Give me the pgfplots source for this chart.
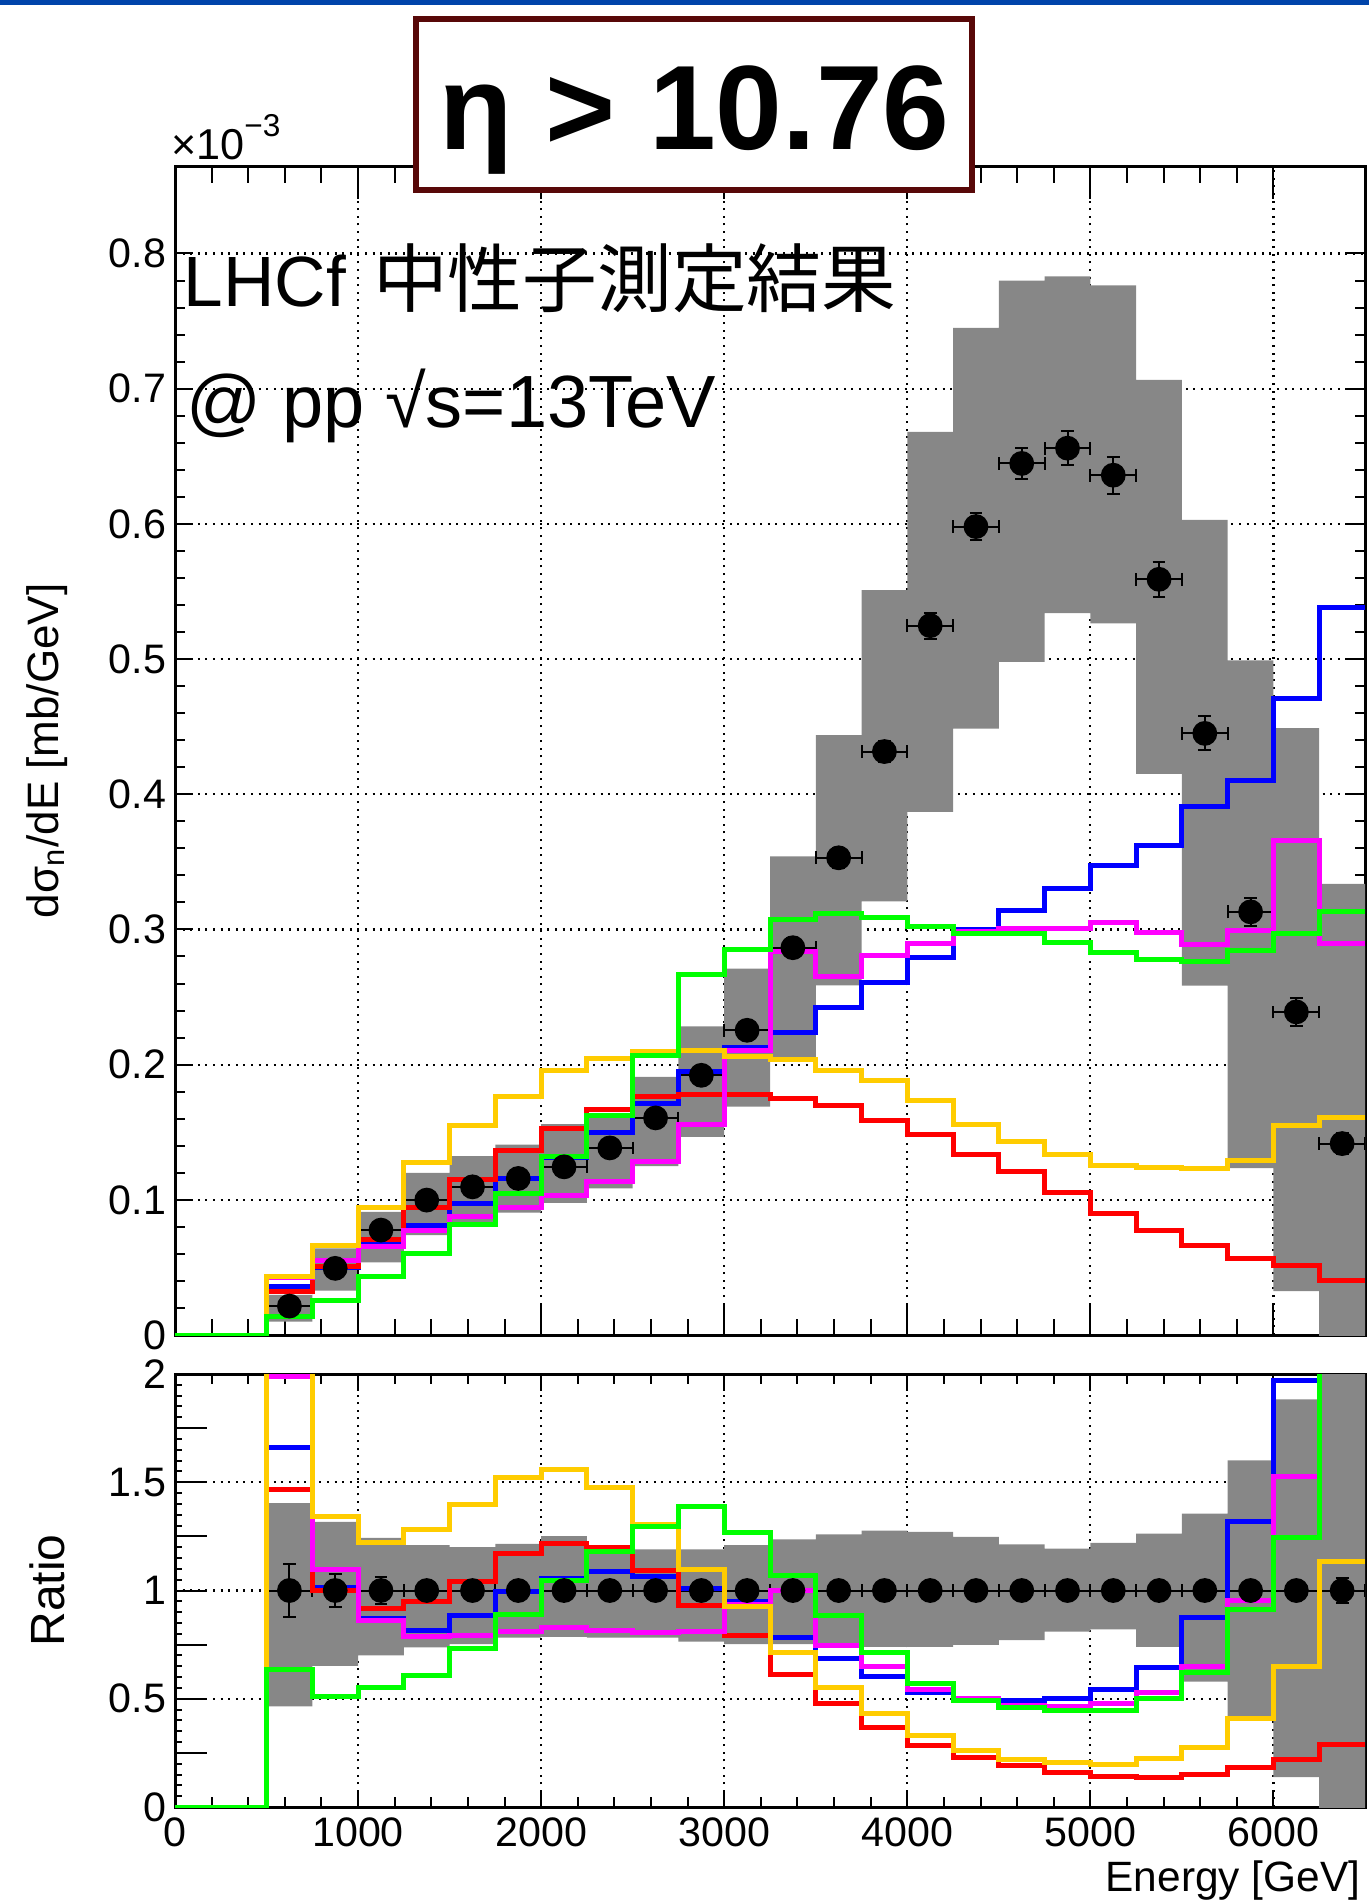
\documentclass[border=0pt]{standalone}
\usepackage{pgfplots}
\pgfplotsset{compat=1.18}
\usepackage{pgfplotstable}
\usepackage{fontspec}
\setmainfont{Liberation Sans}
\newfontfamily\cjk[Scale=1.05]{Noto Sans CJK JP}

\definecolor{hblue}{RGB}{0,0,255}
\definecolor{hred}{RGB}{255,0,0}
\definecolor{hmag}{RGB}{255,0,255}
\definecolor{hyel}{RGB}{255,204,0}
\definecolor{hgrn}{RGB}{0,255,0}
\definecolor{bandgray}{RGB}{135,135,135}
\definecolor{boxred}{RGB}{88,8,8}
\definecolor{topblue}{RGB}{0,68,170}

% model histograms (left bin edges), units of 1e-3 mb/GeV
\pgfplotstableread{
e     b      r      m      y      g
0     0      0      0      0      0
500   0.0362 0.032  0.0428 0.0436 0.0135
750   0.0498 0.0505 0.0549 0.0665 0.0259
1000  0.0675 0.0707 0.0658 0.0943 0.0431
1250  0.0813 0.0943 0.0776 0.1273 0.0603
1500  0.0973 0.115  0.0874 0.155  0.082
1750  0.1158 0.1367 0.0941 0.1766 0.1047
2000  0.1314 0.1527 0.1034 0.1953 0.1318
2250  0.150  0.1667 0.1133 0.2044 0.1626
2500  0.171  0.1761 0.128  0.2094 0.2069
2750  0.1946 0.178  0.156  0.2106 0.2667
3000  0.2126 0.1778 0.2106 0.2062 0.2852
3250  0.224  0.175  0.284  0.2037 0.3074
3500  0.2426 0.1696 0.265  0.1953 0.3116
3750  0.261  0.159  0.2805 0.188  0.309
4000  0.279  0.148  0.2896 0.1735 0.302
4250  0.300  0.1338 0.2987 0.156  0.2969
4500  0.314  0.1213 0.301  0.143  0.297
4750  0.330  0.1057 0.301  0.1338 0.290
5000  0.347  0.0896 0.305  0.1255 0.283
5250  0.362  0.0774 0.298  0.1239 0.278
5500  0.391  0.0662 0.289  0.1234 0.2766
5750  0.41   0.0566 0.2995 0.129  0.2844
6000  0.4705 0.0512 0.3657 0.155  0.2969
6250  0.538  0.0403 0.2896 0.161  0.313
6500  0.538  0.0403 0.2896 0.161  0.313
}\hist

% ratio of models to data
\pgfplotstableread{
e     b      r      m      y      g
0     0      0      0      0      0
500   1.661  1.466  1.99   2.04   0.637
750   1.013  0.998  1.097  1.34   0.51
1000  0.87   0.918  0.86   1.22   0.553
1250  0.817  0.949  0.786  1.282  0.606
1500  0.883  1.041  0.79   1.397  0.734
1750  0.995  1.17   0.813  1.523  0.89
2000  1.056  1.216  0.829  1.558  1.047
2250  1.087  1.197  0.817  1.474  1.179
2500  1.067  1.093  0.806  1.305  1.294
2750  1.008  0.929  0.81   1.097  1.386
3000  0.949  0.79   0.935  0.924  1.266
3250  0.783  0.614  0.998  0.714  1.07
3500  0.688  0.48   0.748  0.553  0.883
3750  0.602  0.365  0.648  0.433  0.714
4000  0.53   0.284  0.545  0.33   0.571
4250  0.503  0.23   0.502  0.261  0.494
4500  0.491  0.192  0.467  0.219  0.46
4750  0.502  0.161  0.462  0.204  0.445
5000  0.542  0.143  0.48   0.195  0.448
5250  0.645  0.138  0.53   0.223  0.499
5500  0.875  0.149  0.648  0.276  0.622
5750  1.317  0.181  0.956  0.411  0.913
6000  1.972  0.218  1.527  0.648  1.243
6250  3.8    0.289  2.05   1.136  2.21
6500  3.8    0.289  2.05   1.136  2.21
}\ratio

% data points
\pgfplotstableread{
c     v      err    one  rerr
625   0.0214 0.0026 1    0.121
875   0.0493 0.0038 1    0.077
1125  0.0776 0.0047 1    0.061
1375  0.0998 0.004  1    0.040
1625  0.1096 0.004  1    0.036
1875  0.1158 0.004  1    0.035
2125  0.1244 0.004  1    0.032
2375  0.1384 0.0045 1    0.033
2625  0.1606 0.005  1    0.031
2875  0.1921 0.0055 1    0.029
3125  0.2254 0.006  1    0.027
3375  0.2865 0.007  1    0.024
3625  0.353  0.0075 1    0.021
3875  0.4316 0.008  1    0.019
4125  0.5247 0.0096 1    0.018
4375  0.598  0.0099 1    0.017
4625  0.6447 0.0116 1    0.018
4875  0.656  0.0127 1    0.019
5125  0.636  0.0137 1    0.022
5375  0.559  0.013  1    0.023
5625  0.445  0.0126 1    0.028
5875  0.313  0.0104 1    0.033
6125  0.239  0.0104 1    0.044
6375  0.1416 0.008  1    0.056
}\data

% systematic band of the data (outline of the grey area, top panel)
\pgfplotstableread{
x    y
500  0.0296
750  0.0296
750  0.064
1000 0.064
1000 0.0911
1250 0.0911
1250 0.12
1500 0.12
1500 0.1323
1750 0.1323
1750 0.1409
2000 0.1409
2000 0.156
2250 0.156
2250 0.1626
2500 0.1626
2500 0.191
2750 0.191
2750 0.2283
3000 0.2283
3000 0.271
3250 0.271
3250 0.354
3500 0.354
3500 0.4437
3750 0.4437
3750 0.551
4000 0.551
4000 0.668
4250 0.668
4250 0.745
4500 0.745
4500 0.780
4750 0.780
4750 0.783
5000 0.783
5000 0.7765
5250 0.7765
5250 0.7065
5500 0.7065
5500 0.603
5750 0.603
5750 0.499
6000 0.499
6000 0.449
6250 0.449
6250 0.3338
6500 0.3338
6500 -0.01
6250 -0.01
6250 0.0325
6000 0.0325
6000 0.1234
5750 0.1234
5750 0.2584
5500 0.2584
5500 0.415
5250 0.415
5250 0.5264
5000 0.5264
5000 0.534
4750 0.534
4750 0.498
4500 0.498
4500 0.4485
4250 0.4485
4250 0.387
4000 0.387
4000 0.3208
3750 0.3208
3750 0.2586
3500 0.2586
3500 0.2057
3250 0.2057
3250 0.169
3000 0.169
3000 0.1466
2750 0.1466
2750 0.125
2500 0.125
2500 0.1084
2250 0.1084
2250 0.0978
2000 0.0978
2000 0.0905
1750 0.0905
1750 0.083
1500 0.083
1500 0.0739
1250 0.0739
1250 0.0537
1000 0.0537
1000 0.0328
750  0.0328
750  0.0099
500  0.0099
}\bandtop

% systematic band in the ratio panel
\pgfplotstableread{
x    y
500  1.404
750  1.404
750  1.317
1000 1.317
1000 1.243
1250 1.243
1250 1.21
1500 1.21
1500 1.20
1750 1.20
1750 1.216
2000 1.216
2000 1.251
2250 1.251
2250 1.18
2500 1.18
2500 1.19
3000 1.19
3000 1.21
3250 1.21
3250 1.236
3500 1.236
3500 1.259
3750 1.259
3750 1.277
4000 1.277
4000 1.271
4250 1.271
4250 1.248
4500 1.248
4500 1.213
4750 1.213
4750 1.194
5000 1.194
5000 1.22
5250 1.22
5250 1.263
5500 1.263
5500 1.355
5750 1.355
5750 1.601
6000 1.601
6000 1.883
6250 1.883
6250 2.4
6500 2.4
6500 -0.1
6250 -0.1
6250 0.138
6000 0.138
6000 0.41
5750 0.41
5750 0.579
5500 0.579
5500 0.74
5250 0.74
5250 0.821
5000 0.821
5000 0.81
4750 0.81
4750 0.771
4500 0.771
4500 0.749
4250 0.749
4250 0.740
3750 0.740
3750 0.745
3500 0.745
3500 0.752
3000 0.752
3000 0.764
2750 0.764
2750 0.783
2250 0.783
2250 0.786
2000 0.786
2000 0.783
1750 0.783
1750 0.752
1500 0.752
1500 0.737
1250 0.737
1250 0.701
1000 0.701
1000 0.652
750  0.652
750  0.465
500  0.465
}\bandratio

\pgfplotsset{
  rootframe/.style={
    scale only axis, width=297.5pt,
    xmin=0, xmax=6500,
    xtick={0,1000,2000,3000,4000,5000,6000},
    minor x tick num=4,
    tick align=inside, tick pos=both,
    axis line style={line width=0.75pt, black},
    every tick/.style={black, line width=0.5pt},
    grid=major,
    major grid style={black, line width=0.55pt, dash pattern=on 0.5pt off 1.4pt},
    scaled x ticks=false, scaled y ticks=false,
    /pgf/number format/assume math mode=true,
    /pgf/number format/1000 sep={},
    tick label style={font=\fontsize{10.3}{12}\selectfont},
    yticklabel style={inner sep=0pt, xshift=-2pt, /pgf/number format/fixed, /pgf/number format/precision=1},
    xticklabel style={inner sep=0pt, yshift=-2.5pt},
  },
  hline/.style={const plot, line width=1.25pt},
  datapts/.style={only marks, mark=*, mark size=2.9pt, black, mark options={fill=black, draw=black}},
}

\begin{document}
\begin{tikzpicture}
\path (0,0) rectangle (342.25pt,-475.25pt);
\fill[topblue] (0,0) rectangle (342.25pt,-1.25pt);

% ---------------- top panel ----------------
\begin{axis}[rootframe, name=top,
  at={(43.75pt,-333.75pt)}, anchor=south west,
  height=292pt, ymin=0, ymax=0.864,
  ytick={0,0.1,0.2,0.3,0.4,0.5,0.6,0.7,0.8},
  minor y tick num=4,
  xticklabels={},
  xtick style={/pgfplots/major tick length=8pt, /pgfplots/minor tick length=4pt},
  ytick style={/pgfplots/major tick length=4.5pt, /pgfplots/minor tick length=2.5pt},
]
\addplot[fill=bandgray, draw=none] table[x=x, y=y] {\bandtop};
\addplot[datapts,
  error bars/.cd, x dir=both, x fixed=125, y dir=both, y explicit,
  error bar style={line width=0.5pt, black},
  error mark options={black, rotate=90, mark size=1.6pt, line width=0.5pt}]
  table[x=c, y=v, y error=err] {\data};
\addplot[hline, hblue] table[x=e, y=b] {\hist};
\addplot[hline, hred]  table[x=e, y=r] {\hist};
\addplot[hline, hmag]  table[x=e, y=m] {\hist};
\addplot[hline, hyel]  table[x=e, y=y] {\hist};
\addplot[hline, hgrn]  table[x=e, y=g] {\hist};
\end{axis}

% ---------------- ratio panel ----------------
\begin{axis}[rootframe, name=bot,
  at={(43.75pt,-451.75pt)}, anchor=south west,
  height=108.25pt, ymin=0, ymax=2,
  ytick={0,0.5,1,1.5,2},
  minor y tick num=9,
  extra y ticks={0.25,0.75,1.25,1.75},
  extra y tick labels={},
  extra y tick style={grid=none, /pgfplots/major tick length=4pt},
  xtick style={/pgfplots/major tick length=4.2pt, /pgfplots/minor tick length=2.5pt},
  ytick style={/pgfplots/major tick length=8pt, /pgfplots/minor tick length=1.8pt},
]
\addplot[fill=bandgray, draw=none] table[x=x, y=y] {\bandratio};
\addplot[datapts,
  error bars/.cd, x dir=both, x fixed=125, y dir=both, y explicit,
  error bar style={line width=0.5pt, black},
  error mark options={black, rotate=90, mark size=1.6pt, line width=0.5pt}]
  table[x=c, y=one, y error=rerr] {\data};
\addplot[hline, hblue] table[x=e, y=b] {\ratio};
\addplot[hline, hred]  table[x=e, y=r] {\ratio};
\addplot[hline, hmag]  table[x=e, y=m] {\ratio};
\addplot[hline, hyel]  table[x=e, y=y] {\ratio};
\addplot[hline, hgrn]  table[x=e, y=g] {\ratio};
\end{axis}

% ---------------- labels ----------------
\node[rotate=90, anchor=base, inner sep=0pt, font=\fontsize{11}{13}\selectfont]
  at ([xshift=-29.25pt]top.west) {dσ\textsubscript{n}/dE [mb/GeV]};
\node[rotate=90, anchor=base, inner sep=0pt, font=\fontsize{12}{14}\selectfont]
  at ([xshift=-27.5pt]bot.west) {Ratio};
\node[anchor=base east, inner sep=0pt, font=\fontsize{10.6}{12}\selectfont]
  at (340.25pt,-472.8pt) {Energy [GeV]};
\node[anchor=base west, inner sep=0pt, font=\fontsize{10.8}{12}\selectfont]
  at (42.6pt,-40pt) {×10\raisebox{5.75pt}{\fontsize{7.9}{9}\selectfont −3}};

\node[anchor=base west, inner sep=0pt, font=\fontsize{17.8}{20}\selectfont]
  at (45.75pt,-76.75pt) {LHCf\hspace{0.38em}{\cjk 中性子測定結果}};
\node[anchor=base west, inner sep=0pt, font=\fontsize{18.5}{20}\selectfont]
  at (46.5pt,-107pt) {@ pp √s=13TeV};

\node[draw=boxred, line width=1.5pt, fill=white, minimum width=139pt,
  minimum height=42.75pt, inner sep=0pt] at (173.6pt,-26.1pt) {};
\node[anchor=base, inner sep=0pt, font=\bfseries\fontsize{30}{36}\selectfont]
  at (173.6pt,-37.5pt) {η > 10.76};
\end{tikzpicture}
\end{document}
